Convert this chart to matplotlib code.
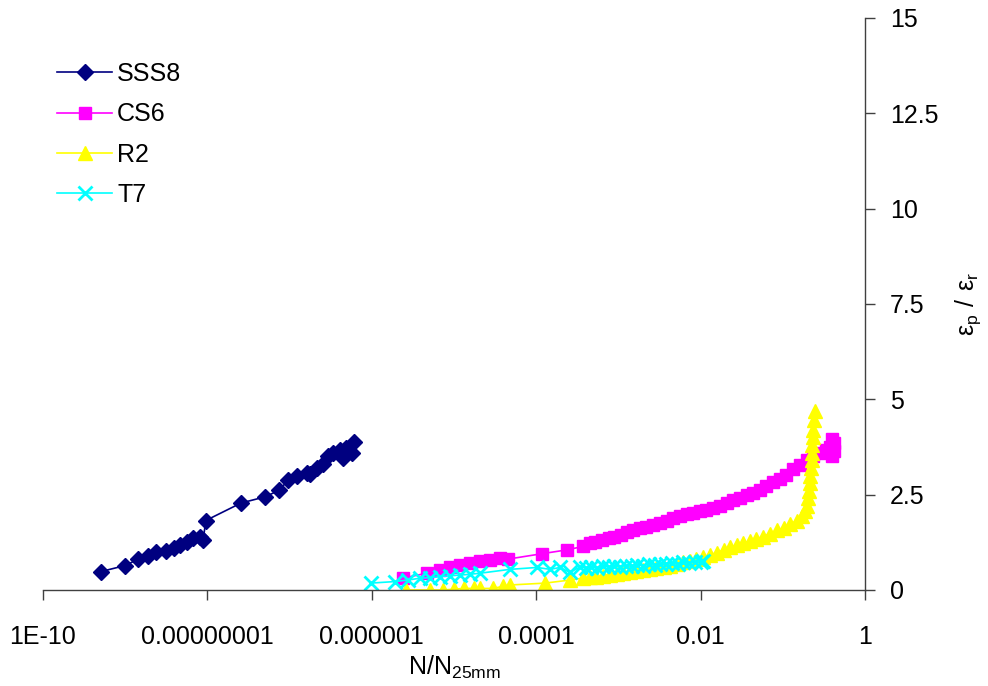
import numpy as np
import matplotlib
matplotlib.use("Agg")
import matplotlib.pyplot as plt

plt.rcParams['font.family'] = ['Liberation Sans', 'DejaVu Sans']
plt.rcParams['mathtext.fontset'] = 'custom'
plt.rcParams['mathtext.rm'] = 'Liberation Sans'

# values: x as log10(N/N25mm), y as eps_p/eps_r
sss8_logx = [-9.30, -9.00, -8.84, -8.72, -8.63, -8.50, -8.41, -8.33, -8.25, -8.17,
             -8.09, -8.05, -8.02, -7.59, -7.30, -7.13, -7.02, -6.91, -6.79, -6.75,
             -6.67, -6.59, -6.53, -6.47, -6.39, -6.35, -6.31, -6.24, -6.22]
sss8_y = [0.48, 0.64, 0.81, 0.89, 1.00, 1.03, 1.10, 1.18, 1.27, 1.36,
          1.40, 1.32, 1.82, 2.28, 2.44, 2.61, 2.87, 2.98, 3.07, 3.03,
          3.20, 3.31, 3.51, 3.60, 3.67, 3.47, 3.73, 3.60, 3.88]

cs6_logx = [-5.62, -5.33, -5.17, -5.05, -4.93, -4.81, -4.68, -4.56, -4.44, -4.34,
            -3.93, -3.63, -3.43, -3.35, -3.28, -3.20, -3.12, -3.05, -2.97, -2.90,
            -2.82, -2.74, -2.66, -2.58, -2.49, -2.41, -2.33, -2.25, -2.17, -2.09,
            -2.01, -1.93, -1.85, -1.76, -1.68, -1.60, -1.52, -1.44, -1.36, -1.28,
            -1.20, -1.12, -1.04, -0.96, -0.87, -0.79, -0.71, -0.63, -0.55, -0.48,
            -0.43, -0.40, -0.38, -0.38, -0.40]
cs6_y = [0.31, 0.44, 0.53, 0.60, 0.66, 0.70, 0.75, 0.79, 0.83, 0.81,
         0.95, 1.05, 1.14, 1.22, 1.27, 1.32, 1.36, 1.38, 1.45, 1.53,
         1.57, 1.62, 1.66, 1.70, 1.75, 1.82, 1.88, 1.93, 1.98, 2.02,
         2.06, 2.10, 2.14, 2.20, 2.28, 2.35, 2.42, 2.48, 2.55, 2.63,
         2.72, 2.82, 2.92, 3.02, 3.16, 3.28, 3.40, 3.50, 3.58, 3.66,
         3.75, 3.95, 3.85, 3.65, 3.50]

r2_logx = [-5.58, -5.29, -5.13, -5.00, -4.88, -4.76, -4.68, -4.52, -4.40, -4.32,
           -3.89, -3.59, -3.43, -3.35, -3.27, -3.19, -3.10, -3.02, -2.94, -2.86,
           -2.78, -2.70, -2.62, -2.54, -2.45, -2.37, -2.29, -2.21, -2.13, -2.05,
           -1.97, -1.89, -1.80, -1.72, -1.64, -1.56, -1.48, -1.40, -1.32, -1.24,
           -1.16, -1.07, -0.99, -0.91, -0.83, -0.77, -0.73, -0.70, -0.69, -0.68,
           -0.67, -0.67, -0.66, -0.65, -0.65, -0.64, -0.63, -0.63, -0.62, -0.61]
r2_y = [0.00, 0.00, 0.00, 0.02, 0.04, 0.04, 0.04, 0.04, 0.10, 0.13,
        0.18, 0.26, 0.31, 0.33, 0.35, 0.37, 0.40, 0.42, 0.45, 0.47,
        0.49, 0.52, 0.55, 0.57, 0.60, 0.64, 0.68, 0.72, 0.76, 0.82,
        0.87, 0.92, 0.98, 1.05, 1.12, 1.17, 1.23, 1.28, 1.34, 1.40,
        1.48, 1.56, 1.63, 1.72, 1.82, 1.95, 2.06, 2.20, 2.40, 2.60,
        2.80, 3.00, 3.20, 3.40, 3.60, 3.80, 4.00, 4.20, 4.45, 4.70]

t7_logx = [-6.01, -5.72, -5.56, -5.41, -5.29, -5.17, -5.05, -4.93, -4.81, -4.68,
           -4.32, -3.99, -3.83, -3.71, -3.59, -3.47, -3.40, -3.33, -3.26, -3.19,
           -3.12, -3.05, -2.98, -2.91, -2.84, -2.77, -2.70, -2.63, -2.56, -2.49,
           -2.42, -2.35, -2.28, -2.21, -2.14, -2.07, -2.00, -1.97]
t7_y = [0.18, 0.22, 0.26, 0.31, 0.32, 0.35, 0.37, 0.39, 0.41, 0.44,
        0.54, 0.59, 0.54, 0.59, 0.46, 0.60, 0.58, 0.60, 0.57, 0.62,
        0.60, 0.63, 0.61, 0.64, 0.62, 0.66, 0.64, 0.67, 0.65, 0.68,
        0.67, 0.70, 0.68, 0.72, 0.70, 0.74, 0.72, 0.76]

xticks = [1e-10, 1e-8, 1e-6, 1e-4, 1e-2, 1]
xtick_labels = ['1E-10', '0.00000001', '0.000001', '0.0001', '0.01', '1']
yticks = [0, 2.5, 5, 7.5, 10, 12.5, 15]
ytick_labels = ['0', '2.5', '5', '7.5', '10', '12.5', '15']

fig = plt.figure(figsize=(9.88, 6.86), dpi=100)
ax = fig.add_axes([0.0435, 0.140, 0.832, 0.834])

ax.plot(10 ** np.array(sss8_logx), sss8_y, color='#000080', marker='D', ms=8, lw=1.2, label='SSS8')
ax.plot(10 ** np.array(cs6_logx), cs6_y, color='#FF00FF', marker='s', ms=9, lw=1.2, label='CS6')
ax.plot(10 ** np.array(r2_logx), r2_y, color='#FFFF00', marker='^', ms=10.5, lw=1.2, label='R2')
ax.plot(10 ** np.array(t7_logx), t7_y, color='#00FFFF', marker='x', ms=10, mew=2, lw=1.2, label='T7')

ax.set_xscale('log')
ax.set_xlim(1e-10, 1)
ax.set_ylim(0, 15)
ax.set_xticks(xticks)
ax.set_xticklabels(xtick_labels)
ax.minorticks_off()
ax.set_yticks(yticks)
ax.set_yticklabels(ytick_labels)

ax.yaxis.tick_right()
ax.yaxis.set_label_position('right')
ax.spines['left'].set_visible(False)
ax.spines['top'].set_visible(False)
for s in ('bottom', 'right'):
    ax.spines[s].set_color('#404040')
    ax.spines[s].set_linewidth(1)
ax.tick_params(axis='x', direction='out', length=7, width=1, color='#404040', pad=18, labelsize=18)
ax.tick_params(axis='y', direction='out', length=7, width=1, color='#404040', pad=11, labelsize=18)

ax.set_xlabel(r'$\mathrm{N/N_{25mm}}$', fontsize=18, labelpad=4)
ax.set_ylabel(r'$\mathrm{\epsilon_p\ /\ \epsilon_r}$', fontsize=18, labelpad=11)

ax.legend(loc='upper left', bbox_to_anchor=(0.005, 0.94), frameon=False, fontsize=18,
          handlelength=2.2, handletextpad=0.2, labelspacing=0.65, borderaxespad=0)

fig.savefig('out.png', dpi=100)
